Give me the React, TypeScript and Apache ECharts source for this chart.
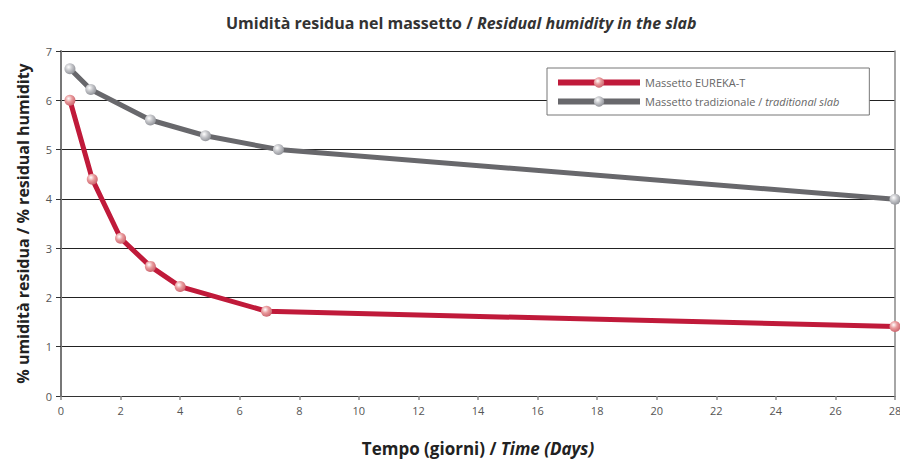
import React, { useEffect, useRef } from "react";
import * as echarts from "echarts";

const eurekaDays = [0.3, 1.05, 2, 3, 4, 6.9, 28];
const eurekaValues = [6.0, 4.4, 3.2, 2.63, 2.22, 1.72, 1.41];
const tradDays = [0.3, 1.0, 3.0, 4.85, 7.3, 28];
const tradValues = [6.64, 6.22, 5.6, 5.28, 5.0, 3.99];
const seriesNames = ["Massetto EUREKA-T", "Massetto tradizionale / traditional slab"];

const FONT = "'Open Sans', 'DejaVu Sans', sans-serif";

function sphere(base: string, dark: string) {
  return new echarts.graphic.RadialGradient(0.38, 0.35, 0.7, [
    { offset: 0, color: "#ffffff" },
    { offset: 0.45, color: base },
    { offset: 1, color: dark },
  ]);
}

export default function App() {
  const ref = useRef<HTMLDivElement>(null);
  useEffect(() => {
    if (!ref.current) return;
    const chart = echarts.init(ref.current, undefined, { renderer: "svg" });
    chart.setOption({
      animation: false,
      backgroundColor: "#ffffff",
      title: {
        text: "{a|Umidità residua nel massetto / }{b|Residual humidity in the slab}",
        left: 221,
        top: 10,
        textStyle: {
          rich: {
            a: { fontFamily: FONT, fontSize: 16, fontWeight: "bold", color: "#333" },
            b: { fontFamily: FONT, fontSize: 16, fontWeight: "bold", fontStyle: "italic", color: "#333" },
          },
        },
      },
      legend: {
        orient: "vertical",
        left: 547,
        top: 68,
        padding: [9, 30, 8, 8],
        itemGap: 8,
        itemWidth: 82,
        itemHeight: 13,
        backgroundColor: "#ffffff",
        borderColor: "#777",
        borderWidth: 1,
        data: seriesNames,
        lineStyle: { width: 6 },
        formatter: (name: string) =>
          name === seriesNames[1]
            ? "{a|Massetto tradizionale / }{b|traditional slab}"
            : "{a|" + name + "}",
        textStyle: {
          rich: {
            a: { fontFamily: FONT, fontSize: 11, color: "#666" },
            b: { fontFamily: FONT, fontSize: 11, color: "#666", fontStyle: "italic" },
          },
        },
      },
      grid: { left: 61, right: 5, top: 51, bottom: 64, containLabel: false, outerBoundsMode: "none" },
      xAxis: {
        type: "value",
        min: 0,
        max: 28,
        interval: 2,
        name: "{a|Tempo (giorni) / }{b|Time (Days)}",
        nameLocation: "middle",
        nameGap: 44,
        nameTextStyle: {
          rich: {
            a: { fontFamily: FONT, fontSize: 17, fontWeight: "bold", color: "#222" },
            b: { fontFamily: FONT, fontSize: 17, fontWeight: "bold", fontStyle: "italic", color: "#222" },
          },
        },
        axisLine: { show: true, lineStyle: { color: "#333", width: 1 } },
        axisTick: { show: true, length: 4, lineStyle: { color: "#888", width: 1.5 } },
        axisLabel: { fontFamily: FONT, fontSize: 11, color: "#555", margin: 9 },
        splitLine: { show: false },
      },
      yAxis: [
        {
          type: "value",
          min: 0,
          max: 7,
          interval: 1,
          name: "% umidità residua / % residual humidity",
          nameLocation: "middle",
          nameGap: 30,
          nameTextStyle: { fontFamily: FONT, fontSize: 16, fontWeight: "bold", color: "#222" },
          axisLine: { show: true, lineStyle: { color: "#777", width: 2 } },
          axisTick: { show: true, length: 5, lineStyle: { color: "#333", width: 1 } },
          axisLabel: { fontFamily: FONT, fontSize: 11, color: "#555", margin: 9 },
          splitLine: { show: true, lineStyle: { color: "#222", width: 1 } },
        },
        {
          type: "value",
          min: 0,
          max: 7,
          interval: 1,
          position: "right",
          axisLine: { show: true, lineStyle: { color: "#888", width: 1.5 } },
          axisTick: { show: false },
          axisLabel: { show: false },
          splitLine: { show: false },
        },
      ],
      series: [
        {
          name: seriesNames[0],
          type: "line",
          data: eurekaDays.map((d, i) => [d, eurekaValues[i]]),
          symbol: "circle",
          symbolSize: 11,
          z: 3,
          lineStyle: { color: "#c01a3a", width: 5 },
          itemStyle: { color: sphere("#e99a9c", "#c9606a"), borderWidth: 0 },
        },
        {
          name: seriesNames[1],
          type: "line",
          data: tradDays.map((d, i) => [d, tradValues[i]]),
          symbol: "circle",
          symbolSize: 11,
          z: 2,
          lineStyle: { color: "#68686c", width: 5 },
          itemStyle: { color: sphere("#c4c5c9", "#8e9096"), borderWidth: 0 },
        },
      ],
    });
    return () => chart.dispose();
  }, []);
  return <div ref={ref} style={{ width: 900, height: 460, position: "absolute", left: 0, top: 0 }} />;
}
